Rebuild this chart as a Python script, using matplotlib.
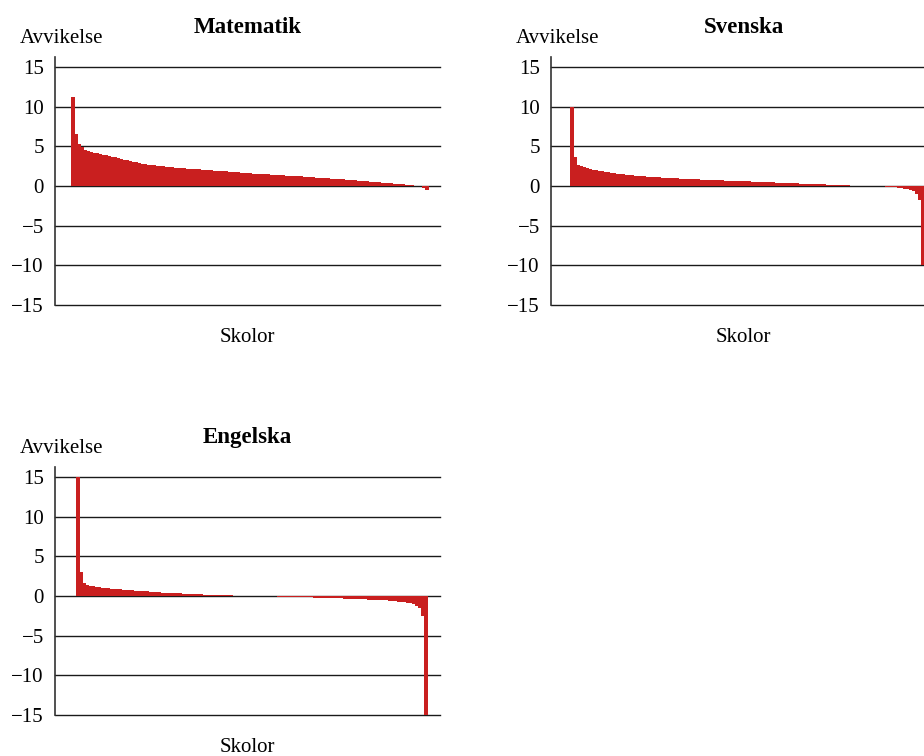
import numpy as np
import matplotlib.pyplot as plt

plt.rcParams['font.family'] = ['Liberation Serif', 'DejaVu Serif']

# Deviation per school, sorted from highest to lowest
matematik = [
    11.2, 6.5, 5.3, 4.9, 4.6, 4.35, 4.25, 4.15, 4.1, 4.0,
    3.95, 3.85, 3.8, 3.7, 3.6, 3.5, 3.4, 3.33, 3.25, 3.15,
    3.05, 2.98, 2.9, 2.83, 2.77, 2.7, 2.65, 2.6, 2.55, 2.5,
    2.46, 2.43, 2.4, 2.36, 2.33, 2.3, 2.27, 2.24, 2.2, 2.17,
    2.14, 2.11, 2.08, 2.05, 2.02, 2.0, 1.97, 1.94, 1.92, 1.89,
    1.86, 1.83, 1.8, 1.77, 1.74, 1.71, 1.68, 1.65, 1.62, 1.58,
    1.56, 1.54, 1.51, 1.49, 1.47, 1.45, 1.42, 1.4, 1.37, 1.35,
    1.33, 1.31, 1.29, 1.27, 1.25, 1.23, 1.2, 1.17, 1.14, 1.11,
    1.08, 1.05, 1.03, 1.01, 0.98, 0.96, 0.94, 0.92, 0.89, 0.86,
    0.83, 0.8, 0.77, 0.74, 0.71, 0.68, 0.65, 0.62, 0.58, 0.55,
    0.52, 0.49, 0.46, 0.43, 0.4, 0.37, 0.34, 0.31, 0.28, 0.25,
    0.21, 0.17, 0.12, 0.07, 0.02, 0.0, 0.0, -0.25, -0.5,
]

svenska = [
    10.0, 3.6, 2.7, 2.5, 2.4, 2.25, 2.15, 2.05, 1.98, 1.92,
    1.86, 1.8, 1.74, 1.68, 1.62, 1.57, 1.52, 1.48, 1.44, 1.4,
    1.36, 1.32, 1.28, 1.25, 1.22, 1.19, 1.16, 1.13, 1.1, 1.08,
    1.06, 1.04, 1.02, 1.0, 0.97, 0.95, 0.93, 0.91, 0.9, 0.88,
    0.87, 0.85, 0.83, 0.81, 0.8, 0.78, 0.77, 0.75, 0.74, 0.72,
    0.71, 0.69, 0.68, 0.66, 0.65, 0.63, 0.61, 0.6, 0.58, 0.57,
    0.55, 0.54, 0.52, 0.51, 0.5, 0.48, 0.46, 0.45, 0.43, 0.42,
    0.4, 0.38, 0.37, 0.35, 0.34, 0.32, 0.31, 0.29, 0.28, 0.26,
    0.25, 0.23, 0.22, 0.2, 0.19, 0.17, 0.16, 0.14, 0.13, 0.11,
    0.1, 0.08, 0.07, 0.06, 0.05, 0.04, 0.03, 0.02, 0.01, 0.0,
    0.0, 0.0, 0.0, 0.0, -0.05, -0.08, -0.12, -0.15, -0.18, -0.22,
    -0.28, -0.33, -0.42, -0.5, -0.65, -0.95, -1.8, -10.0,
]

engelska = [
    15.0, 3.0, 1.6, 1.4, 1.28, 1.2, 1.13, 1.08, 1.04, 1.0,
    0.97, 0.94, 0.91, 0.88, 0.84, 0.8, 0.77, 0.74, 0.71, 0.68,
    0.65, 0.62, 0.6, 0.57, 0.55, 0.52, 0.49, 0.46, 0.44, 0.42,
    0.4, 0.38, 0.36, 0.34, 0.32, 0.3, 0.28, 0.26, 0.25, 0.23,
    0.21, 0.2, 0.18, 0.17, 0.15, 0.14, 0.12, 0.11, 0.1, 0.09,
    0.08, 0.07, 0.06, 0.05, 0.04, 0.03, 0.0, 0.0, 0.0, 0.0,
    0.0, 0.0, 0.0, -0.02, -0.04, -0.05, -0.06, -0.07, -0.08, -0.09,
    -0.1, -0.11, -0.12, -0.13, -0.14, -0.15, -0.16, -0.17, -0.18, -0.19,
    -0.2, -0.21, -0.22, -0.24, -0.25, -0.27, -0.28, -0.3, -0.31, -0.33,
    -0.34, -0.36, -0.37, -0.39, -0.4, -0.42, -0.43, -0.45, -0.46, -0.48,
    -0.5, -0.52, -0.54, -0.56, -0.59, -0.62, -0.66, -0.7, -0.75, -0.8,
    -0.86, -0.93, -1.05, -1.2, -1.5, -2.5, -15.0,
]

subjects = ['Matematik', 'Svenska', 'Engelska']
series = [matematik, svenska, engelska]
yticks = [-15, -10, -5, 0, 5, 10, 15]
ylabel = 'Avvikelse'
xlabel = 'Skolor'

W, H = 924, 756
fig = plt.figure(figsize=(W / 100, H / 100), dpi=100)

def box(left, top, right, bottom):
    return [left / W, 1 - bottom / H, (right - left) / W, (bottom - top) / H]

# (spine x, axes top y, axes bottom y, pixel where first school starts)
panels = [(55, 57, 305, 73), (551, 57, 305, 572), (55, 467, 715, 78)]
red = '#C91F1F'
px_per_bar = 3.0
width_px = 385

for name, vals, (x0, top, bot, first) in zip(subjects, series, panels):
    ax = fig.add_axes(box(x0, top, x0 + width_px, bot))
    idx = np.arange(len(vals))
    ax.bar(idx, vals, width=1.15, color=red, linewidth=0,
           antialiased=False, zorder=3)
    xmin = -(first - x0) / px_per_bar
    ax.set_xlim(xmin, xmin + width_px / px_per_bar)
    ax.set_ylim(-15, 15 + (bot - top - 238) / (238 / 30))
    for y in yticks:
        ax.axhline(y, color='#1a1a1a', lw=1.0, zorder=2, clip_on=False)
    ax.set_yticks(yticks)
    ax.set_yticklabels([str(t).replace('-', '\u2212') for t in yticks])
    ax.tick_params(axis='y', length=0, pad=8, labelsize=15)
    ax.set_xticks([])
    for s in ['top', 'right', 'bottom']:
        ax.spines[s].set_visible(False)
    ax.spines['left'].set_color('#333333')
    ax.spines['left'].set_linewidth(1.2)

    cx = x0 + width_px / 2
    fig.text(cx / W, 1 - (top - 24) / H, name, ha='center', va='baseline',
             fontsize=16.5, fontweight='bold')
    fig.text((x0 - 35) / W, 1 - (top - 14) / H, ylabel, ha='left', va='baseline',
             fontsize=15)
    fig.text(cx / W, 1 - (bot + 37) / H, xlabel, ha='center', va='baseline',
             fontsize=15)

fig.savefig('out.png', dpi=100)
